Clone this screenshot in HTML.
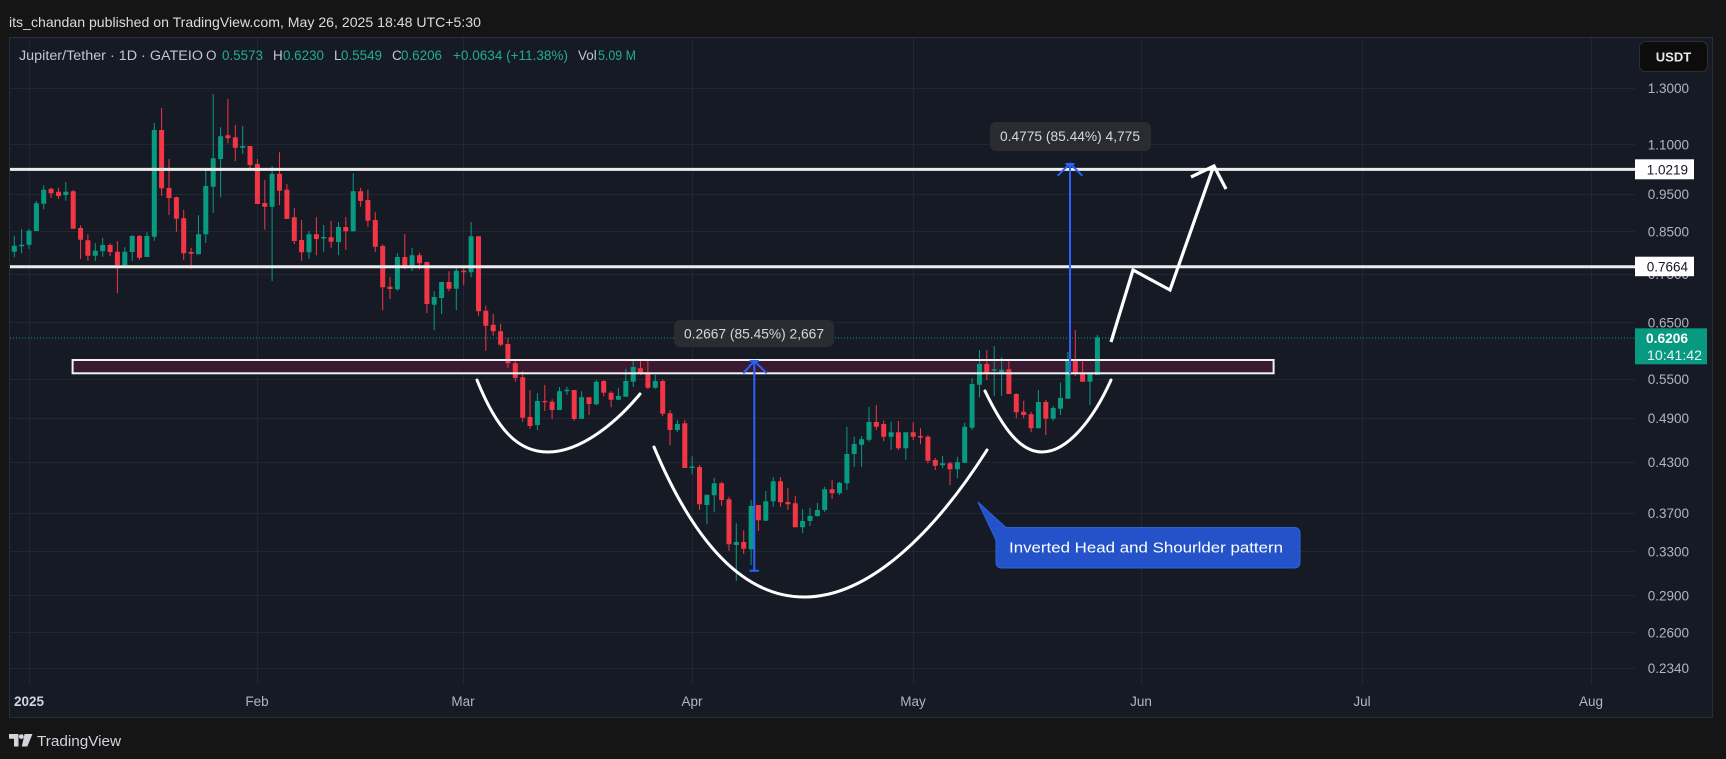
<!DOCTYPE html>
<html><head><meta charset="utf-8"><style>
html,body{margin:0;padding:0;background:#141414;}
svg{display:block;font-family:"Liberation Sans",sans-serif;}
</style></head><body>
<svg width="1726" height="759" viewBox="0 0 1726 759" xmlns="http://www.w3.org/2000/svg">
<rect x="0" y="0" width="1726" height="759" fill="#151515"/>
<text x="9" y="27" font-size="14" fill="#dcdcdc" textLength="472" lengthAdjust="spacingAndGlyphs">its_chandan published on TradingView.com, May 26, 2025 18:48 UTC+5:30</text>
<rect x="9.5" y="37.5" width="1703" height="680" fill="#161a25" stroke="#2a2e39" stroke-width="1"/>
<!-- grid -->
<g stroke="#222633" stroke-width="1">
<path d="M29.5 38V684M257.5 38V684M463.5 38V684M692.5 38V684M913.5 38V684M1141.5 38V684M1362.5 38V684M1591.5 38V684"/>
<path d="M10 88.5H1635M10 144.5H1635M10 194.5H1635M10 231.5H1635M10 274.5H1635M10 322.5H1635M10 379.5H1635M10 418.5H1635M10 462.5H1635M10 513.5H1635M10 551.5H1635M10 595.5H1635M10 632.5H1635M10 668.5H1635"/>
</g>
<!-- zone fill -->
<rect x="72.6" y="360" width="1201" height="13.3" fill="#3a1a31"/>
<!-- current price line -->
<line x1="10" y1="338" x2="1635" y2="338" stroke="#089981" stroke-width="1" stroke-dasharray="1 2"/>
<!-- candles -->
<path fill="none" stroke="#089981" stroke-width="1" d="M14.3 236V257.3M21.6 229V253.3M29 229V248.7M36.4 201V231M43.7 185.3V209.3M65.8 182V200.7M95.3 243.3V261M102.7 238V256.7M124.8 247.3V265.3M132.2 235V261M146.9 232.3V257M154.3 123V240.7M198.5 215.3V254.3M205.8 169.3V243M213.2 94.3V212.7M220.6 127.3V197.3M242.7 126V154M272.1 166V281M309 231V258.7M323.7 225V251.7M338.5 222V255.3M353.2 173.3V231.3M397.4 253.3V290.7M412.1 247.7V271.3M434.2 291.3V330.3M441.6 282V314M456.3 268.3V310.3M471.1 222V277.3M537.4 393V430M559.5 387V410M566.9 386.7V395M581.6 391.3V418.7M596.3 380V405.3M618.4 387.7V400.3M625.8 368.7V396.7M633.2 358.7V387M655.3 375V388.7M677.4 420V432.3M692.1 456.3V474.3M706.9 494.7V524.3M714.2 477.7V511.7M736.3 523.3V580.7M751.1 500.3V565M765.8 491V520.7M773.2 477V506.7M802.6 509.3V533M810 507.7V526M817.4 502.7V516.7M824.7 486.7V512M839.5 481.7V495M846.9 426.7V490M854.2 436.7V466.7M861.6 436V466.7M869 406.7V441.7M891.1 421.7V450M905.8 432.3V460M942.6 456V468.3M957.4 456.7V478.3M964.7 422.7V462.7M972.1 378.3V430M979.5 350V397.3M994.2 346V396M1001.6 357.3V396M1038.4 390V428.3M1053.2 406V420.7M1060.5 382.7V415M1067.9 351.7V398.7M1090 374V405M1097.4 335V375"/>
<path fill="none" stroke="#089981" stroke-width="5" d="M14.3 245.7V251.7M21.6 244.7V246.3M29 230.7V244.7M36.4 203.3V231M43.7 189.7V203.7M65.8 191.7V195M95.3 250.7V255.7M102.7 245V251.3M124.8 251.7V265.3M132.2 236V252M146.9 236V257M154.3 130V236.7M198.5 234.3V254.3M205.8 186V234.3M213.2 158.3V186.7M220.6 136.3V159M242.7 146V147.7M272.1 173.7V206.7M309 234.3V252.3M323.7 237V238.5M338.5 227V242M353.2 191.3V231.3M397.4 257V289.3M412.1 255.3V268M434.2 297V304.7M441.6 282V298M456.3 270.7V288.7M471.1 236.3V272.3M537.4 401V425M559.5 391.3V410M566.9 389.7V391.3M581.6 397.3V418.7M596.3 381.7V404.3M618.4 396V399.7M625.8 381V396.7M633.2 367V381.7M655.3 381V387.7M677.4 424V430M692.1 466.5V468M706.9 494.7V505M714.2 483.3V495.3M736.3 542V545M751.1 506V549.3M765.8 501.3V520.7M773.2 481.3V501.3M802.6 521V527.3M810 516V521M817.4 510V516M824.7 489.3V510M839.5 482.7V493.3M846.9 454V483.3M854.2 444V454M861.6 439.3V444.7M869 422V439.7M891.1 432.3V436.7M905.8 432.3V448.3M942.6 463.3V465.3M957.4 462.3V469.3M964.7 426.7V462.7M972.1 384V427.7M979.5 364V384.7M994.2 369.3V370.7M1001.6 369.7V372.7M1038.4 402V428.3M1053.2 408V418.7M1060.5 398V408.7M1067.9 359.3V398.7M1090 374V381.7M1097.4 337.3V375"/>
<path fill="none" stroke="#f23645" stroke-width="1" d="M51.1 187.7V198M58.5 187.7V199M73.2 190V228.7M80.6 225.3V259M87.9 234.3V261M110.1 243.3V256M117.4 241.3V293.3M139.5 235V260M161.6 108V196M169 159V215M176.4 196.7V231.7M183.7 209.7V260M191.1 247.7V268.7M227.9 99V143.3M235.3 125V161M250 146V169.3M257.4 159V204M264.8 180V229.7M279.5 152.3V205M286.9 184V219M294.3 208.3V244M301.6 220V260.7M316.4 217V255.3M331.1 220.7V247.7M345.8 217V249.7M360.6 187.7V206.7M367.9 189.7V226.7M375.3 212.3V252M382.7 244.3V310.3M390 276.7V299M404.8 234V269.3M419.5 252.7V269.3M426.9 262V313.3M449 271.3V291.3M463.7 266.7V285.3M478.5 236.3V315.7M485.8 305.7V350.7M493.2 314V335.7M500.6 324V346.3M507.9 338.3V367.7M515.3 360.3V381.7M522.7 371.3V421.7M530 390.3V428.7M544.8 385V411M552.1 399.3V419.3M574.2 390V420.7M589 397.3V415M603.7 380V396.3M611.1 391.3V407.3M640.5 358.7V375M647.9 361V389.3M662.7 379.3V416.3M670 410V445.3M684.8 420V468M699.5 465V510M721.6 481.7V505.7M729 496.7V550.7M743.7 530.3V554M758.4 505V531M780.5 477V506.7M787.9 487.7V510M795.3 495.7V527.3M832.1 480V499M876.3 405V430M883.7 420.7V441.3M898.4 421V450M913.2 422.3V440M920.5 428.3V444.3M927.9 435V463.3M935.3 458V470M950 461.7V485M986.8 350V380M1008.9 360V394M1016.3 393.3V418.3M1023.7 400.7V418.3M1031.1 411.7V432.3M1045.8 400V435M1075.3 330V376M1082.6 359.3V381.7"/>
<path fill="none" stroke="#f23645" stroke-width="5" d="M51.1 188.7V193.3M58.5 191.7V196M73.2 191.3V228.7M80.6 228V239.7M87.9 240.3V255.7M110.1 245V252M117.4 251.7V265M139.5 236V257.7M161.6 130V188.3M169 188V198M176.4 197.3V218.7M183.7 218.3V253.3M191.1 252V253.7M227.9 135.3V138.3M235.3 137.3V147.7M250 146V165M257.4 164V204M264.8 203V206.7M279.5 173.7V190.7M286.9 189.7V219M294.3 217.3V241M301.6 240V252.3M316.4 234.3V239M331.1 237.3V241.7M345.8 227V231.3M360.6 191.3V201M367.9 200V220.7M375.3 220V246.7M382.7 246V287.3M390 286.7V289M404.8 257V268M419.5 255.3V263.3M426.9 262V304M449 282V288.7M463.7 270.7V272.3M478.5 236.3V311.3M485.8 310.7V325.7M493.2 324.7V331.3M500.6 331.3V344.7M507.9 344V363.3M515.3 363.3V378M522.7 377.3V417.7M530 417V426M544.8 401V402.3M552.1 401.7V410M574.2 390V419M589 397.3V404M603.7 381V392.7M611.1 392.7V399.7M640.5 368.3V373.3M647.9 372.7V387.7M662.7 381V413.7M670 413.3V430M684.8 423.3V468M699.5 467V504.3M721.6 483.3V500M729 499.3V544.3M743.7 542V548.7M758.4 505V520.3M780.5 481.3V502.3M787.9 502V504.3M795.3 503.3V527.3M832.1 489.3V493.3M876.3 422V426.7M883.7 424V436.7M898.4 432.3V448.3M913.2 432.3V436.7M920.5 436V437.5M927.9 436.7V460.7M935.3 460V465.7M950 463.3V469.3M986.8 364V373M1008.9 369.3V394M1016.3 394V412.3M1023.7 411.7V415M1031.1 414.3V428.3M1045.8 402V418.7M1075.3 359.3V374M1082.6 374V381.7"/>
<!-- zone border -->
<rect x="72.6" y="360" width="1201" height="13.3" fill="none" stroke="#f2f2f2" stroke-width="2"/>
<!-- horizontal levels -->
<line x1="10" y1="169.4" x2="1635" y2="169.4" stroke="#ececec" stroke-width="3"/>
<line x1="10" y1="266.8" x2="1635" y2="266.8" stroke="#ececec" stroke-width="3"/>
<!-- cups -->
<g fill="none" stroke="#ffffff" stroke-width="3" stroke-linecap="round">
<path d="M477 380 C497 430 518 452 548 452 C580 452 615 424 640 394"/>
<path d="M654 447 C695 545 745 598 806 597 C870 596 935 532 987 450"/>
<path d="M985 391 C1003 428 1020 452 1042 452 C1068 452 1094 418 1111 380"/>
</g>
<!-- zigzag arrow -->
<g fill="none" stroke="#ffffff" stroke-width="3.2" stroke-linejoin="miter">
<polyline points="1111,342 1133,270 1170,290 1213.5,166.5"/>
<polyline points="1191,177 1214,166 1226,189"/>
</g>
<!-- blue measures -->
<g fill="none" stroke="#2962ff" stroke-width="2">
<path d="M754.3 361.5V570.7M749.5 570.7H759M749.5 361H759M743.3 373.3L754.3 361L766.7 373.3"/>
<path d="M1070 164.5V373.6M1065.5 164H1074.5M1057.7 175.7L1070 163.5L1082.3 175.7"/>
</g>
<rect x="674" y="320" width="160" height="27" rx="6" fill="#2b2c31"/>
<text x="754" y="338.5" font-size="14" fill="#d6d8de" text-anchor="middle" textLength="140" lengthAdjust="spacingAndGlyphs">0.2667 (85.45%) 2,667</text>
<rect x="990" y="122" width="161" height="29" rx="6" fill="#2b2c31"/>
<text x="1070" y="141" font-size="14" fill="#d6d8de" text-anchor="middle" textLength="140" lengthAdjust="spacingAndGlyphs">0.4775 (85.44%) 4,775</text>
<!-- callout -->
<path d="M978 502 L1006 527.5 H1294 Q1300 527.5 1300 533.5 V562 Q1300 568 1294 568 H1002 Q996 568 996 562 V540 Z" fill="#2453c9" stroke="#2a63e0" stroke-width="1"/>
<text x="1009" y="552.5" font-size="15" fill="#ffffff" textLength="274" lengthAdjust="spacingAndGlyphs">Inverted Head and Shourlder pattern</text>
<!-- legend -->
<g font-size="13.5">
<text x="19" y="60" fill="#c3c6ce" textLength="184" lengthAdjust="spacingAndGlyphs">Jupiter/Tether · 1D · GATEIO</text>
<text x="206" y="60" fill="#c3c6ce">O</text><text x="222" y="60" fill="#22ab94" textLength="41" lengthAdjust="spacingAndGlyphs">0.5573</text>
<text x="273" y="60" fill="#c3c6ce">H</text><text x="283" y="60" fill="#22ab94" textLength="41" lengthAdjust="spacingAndGlyphs">0.6230</text>
<text x="334" y="60" fill="#c3c6ce">L</text><text x="341" y="60" fill="#22ab94" textLength="41" lengthAdjust="spacingAndGlyphs">0.5549</text>
<text x="392" y="60" fill="#c3c6ce">C</text><text x="401" y="60" fill="#22ab94" textLength="41" lengthAdjust="spacingAndGlyphs">0.6206</text>
<text x="453" y="60" fill="#22ab94" textLength="115" lengthAdjust="spacingAndGlyphs">+0.0634 (+11.38%)</text>
<text x="578" y="60" fill="#c3c6ce">Vol</text><text x="598" y="60" fill="#22ab94" textLength="38" lengthAdjust="spacingAndGlyphs">5.09 M</text>
</g>
<!-- price axis -->
<g font-size="13.5" fill="#b2b5be" text-anchor="end">
<text x="1689" y="93">1.3000</text>
<text x="1689" y="149.5">1.1000</text>
<text x="1689" y="199">0.9500</text>
<text x="1689" y="236.5">0.8500</text>
<text x="1689" y="279">0.7500</text>
<text x="1689" y="327.5">0.6500</text>
<text x="1689" y="384">0.5500</text>
<text x="1689" y="423">0.4900</text>
<text x="1689" y="467">0.4300</text>
<text x="1689" y="518">0.3700</text>
<text x="1689" y="556.5">0.3300</text>
<text x="1689" y="600.5">0.2900</text>
<text x="1689" y="637.5">0.2600</text>
<text x="1689" y="673">0.2340</text>
</g>
<rect x="1635" y="159.3" width="59" height="20" fill="#ffffff"/>
<text x="1688" y="174.5" font-size="13.5" fill="#131722" text-anchor="end">1.0219</text>
<rect x="1635" y="256.7" width="59" height="19.5" fill="#ffffff"/>
<text x="1688" y="271.5" font-size="13.5" fill="#131722" text-anchor="end">0.7664</text>
<rect x="1635" y="328.3" width="72" height="36" fill="#089981"/>
<text x="1646" y="343" font-size="13.5" fill="#ffffff" font-weight="bold" textLength="42" lengthAdjust="spacingAndGlyphs">0.6206</text>
<text x="1647" y="360" font-size="13.5" fill="#e8f5f2" textLength="55" lengthAdjust="spacingAndGlyphs">10:41:42</text>
<rect x="1639.5" y="41.5" width="68" height="30" rx="6" fill="#0c0c0c" stroke="#2e2e2e"/>
<text x="1673.5" y="61.5" font-size="13" font-weight="bold" fill="#e6e6e6" text-anchor="middle">USDT</text>
<!-- time axis -->
<g font-size="13.5" fill="#b2b5be" text-anchor="middle">
<text x="29" y="706" font-weight="bold" fill="#d1d4dc">2025</text>
<text x="257" y="706">Feb</text>
<text x="463" y="706">Mar</text>
<text x="692" y="706">Apr</text>
<text x="913" y="706">May</text>
<text x="1141" y="706">Jun</text>
<text x="1362" y="706">Jul</text>
<text x="1591" y="706">Aug</text>
</g>
<!-- footer logo -->
<g fill="#d1d4dc">
<path d="M9 734H18.5V746.5H14V738.8H9Z"/>
<circle cx="21.3" cy="736.6" r="2.4"/>
<path d="M24.5 734H32.5L27.3 746.5H21.8Z"/>
</g>
<text x="37" y="746" font-size="15" fill="#d1d4dc" textLength="84" lengthAdjust="spacingAndGlyphs">TradingView</text>
</svg>
</body></html>
